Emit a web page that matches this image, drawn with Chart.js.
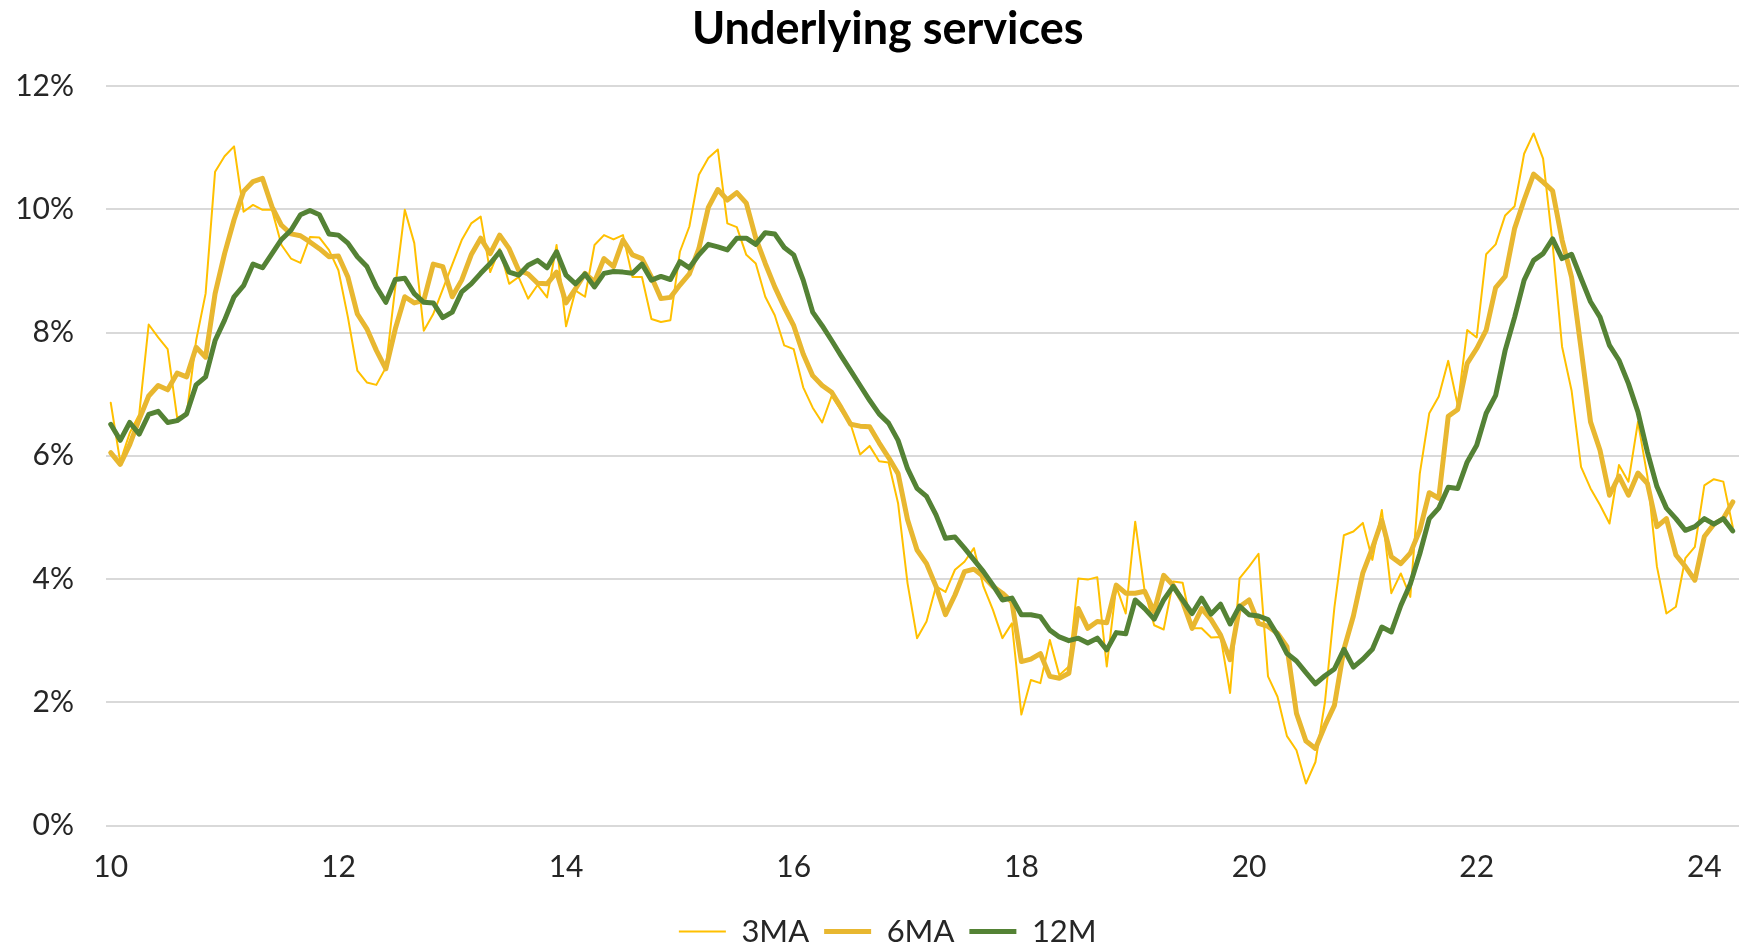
<!DOCTYPE html>
<html>
<head>
<meta charset="utf-8">
<title>Underlying services</title>
<script src="https://cdn.jsdelivr.net/npm/chart.js@4.4.1/dist/chart.umd.min.js"></script>
<style>
  html, body { margin: 0; padding: 0; background: #fff; overflow: hidden; }
  #wrap { width: 1780px; height: 951px; }
</style>
</head>
<body>
<div id="wrap"><canvas id="chart" width="1780" height="951"></canvas></div>
<script>
// Monthly, Jan 2010 onwards (the picture is cropped a few months past the last point)
const monthCount = 176;
const months = [];
for (let i = 0; i < monthCount; i++) {
  const y = 2010 + Math.floor(i / 12);
  const m = (i % 12) + 1;
  months.push(y + '-' + String(m).padStart(2, '0'));
}

// x-axis labels, one every two years (January)
const yearTicks = ['10', '12', '14', '16', '18', '20', '22', '24'];

// 3-month moving average, annualised (%)
const ma3 = [
  6.86, 5.90, 6.37, 6.67, 8.13, 7.92, 7.73, 6.62, 6.67, 7.87, 8.63, 10.61,
  10.86, 11.02, 9.96, 10.07, 9.99, 9.99, 9.42, 9.20, 9.13, 9.55, 9.54, 9.34,
  9.01, 8.25, 7.38, 7.19, 7.15, 7.43, 8.74, 9.99, 9.45, 8.03, 8.30, 8.70,
  9.10, 9.50, 9.77, 9.88, 8.98, 9.36, 8.79, 8.90, 8.55, 8.77, 8.57, 9.42,
  8.10, 8.68, 8.58, 9.42, 9.58, 9.51, 9.58, 8.90, 8.90, 8.22, 8.17, 8.20,
  9.31, 9.72, 10.56, 10.83, 10.97, 9.77, 9.71, 9.26, 9.12, 8.58, 8.28, 7.79,
  7.73, 7.11, 6.78, 6.54, 6.97, 6.73, 6.51, 6.02, 6.16, 5.91, 5.89, 5.23,
  3.93, 3.04, 3.31, 3.88, 3.79, 4.15, 4.28, 4.50, 3.88, 3.50, 3.04, 3.28,
  1.80, 2.36, 2.31, 3.01, 2.44, 2.58, 4.01, 3.99, 4.03, 2.58, 3.88, 3.44,
  4.93, 3.80, 3.25, 3.18, 3.96, 3.94, 3.20, 3.20, 3.05, 3.06, 2.15, 4.01,
  4.20, 4.41, 2.42, 2.09, 1.45, 1.22, 0.68, 1.03, 2.00, 3.54, 4.71, 4.77,
  4.91, 4.31, 5.12, 3.77, 4.09, 3.71, 5.71, 6.69, 6.96, 7.54, 6.82, 8.04,
  7.92, 9.27, 9.43, 9.90, 10.05, 10.90, 11.23, 10.82, 9.44, 7.77, 7.06, 5.82,
  5.47, 5.20, 4.90, 5.85, 5.58, 6.55, 5.66, 4.20, 3.44, 3.55, 4.34, 4.52,
  5.52, 5.62, 5.58, 4.84
];

// 6-month moving average, annualised (%)
const ma6 = [
  6.05, 5.86, 6.18, 6.59, 6.97, 7.14, 7.07, 7.34, 7.28, 7.76, 7.60, 8.63,
  9.28, 9.83, 10.29, 10.45, 10.50, 10.04, 9.74, 9.60, 9.57, 9.47, 9.36, 9.23,
  9.24, 8.90, 8.30, 8.06, 7.71, 7.41, 8.06, 8.58, 8.48, 8.52, 9.11, 9.07,
  8.58, 8.85, 9.26, 9.53, 9.28, 9.58, 9.36, 9.01, 8.95, 8.80, 8.79, 8.98,
  8.48, 8.71, 8.96, 8.82, 9.20, 9.07, 9.50, 9.26, 9.20, 8.90, 8.55, 8.57,
  8.77, 8.95, 9.36, 10.03, 10.32, 10.15, 10.27, 10.10, 9.53, 9.12, 8.74, 8.41,
  8.11, 7.65, 7.30, 7.14, 7.03, 6.78, 6.51, 6.48, 6.47, 6.21, 5.97, 5.71,
  4.96, 4.47, 4.25, 3.88, 3.42, 3.74, 4.12, 4.16, 4.04, 3.88, 3.77, 3.63,
  2.66, 2.70, 2.79, 2.42, 2.39, 2.47, 3.52, 3.20, 3.31, 3.29, 3.90, 3.77,
  3.77, 3.80, 3.47, 4.06, 3.90, 3.63, 3.20, 3.52, 3.34, 3.09, 2.69, 3.55,
  3.66, 3.28, 3.23, 3.12, 2.90, 1.82, 1.37, 1.25, 1.62, 1.95, 2.86, 3.40,
  4.10, 4.50, 4.95, 4.36, 4.25, 4.42, 4.79, 5.40, 5.31, 6.64, 6.75, 7.50,
  7.74, 8.04, 8.73, 8.91, 9.69, 10.15, 10.57, 10.44, 10.30, 9.50, 8.90, 7.74,
  6.55, 6.09, 5.36, 5.67, 5.36, 5.72, 5.55, 4.85, 4.98, 4.39, 4.20, 3.98,
  4.69, 4.89, 4.98, 5.25
];

// 12-month growth (%)
const m12 = [
  6.51, 6.25, 6.54, 6.35, 6.67, 6.72, 6.54, 6.57, 6.68, 7.15, 7.28, 7.87,
  8.20, 8.58, 8.76, 9.11, 9.05, 9.28, 9.51, 9.66, 9.91, 9.98, 9.91, 9.60,
  9.58, 9.45, 9.23, 9.07, 8.74, 8.49, 8.86, 8.88, 8.63, 8.49, 8.48, 8.24,
  8.33, 8.66, 8.79, 8.96, 9.12, 9.31, 8.98, 8.93, 9.09, 9.17, 9.05, 9.31,
  8.93, 8.79, 8.95, 8.74, 8.96, 8.99, 8.98, 8.96, 9.11, 8.85, 8.91, 8.86,
  9.15, 9.05, 9.26, 9.43, 9.39, 9.34, 9.53, 9.53, 9.43, 9.62, 9.60, 9.38,
  9.26, 8.85, 8.33, 8.11, 7.87, 7.62, 7.38, 7.14, 6.90, 6.68, 6.53, 6.25,
  5.79, 5.47, 5.34, 5.04, 4.66, 4.68, 4.50, 4.31, 4.12, 3.90, 3.66, 3.69,
  3.42, 3.42, 3.39, 3.17, 3.06, 3.00, 3.04, 2.96, 3.04, 2.85, 3.13, 3.11,
  3.66, 3.52, 3.35, 3.66, 3.88, 3.66, 3.44, 3.69, 3.43, 3.59, 3.27, 3.56,
  3.42, 3.40, 3.34, 3.09, 2.79, 2.67, 2.48, 2.30, 2.43, 2.54, 2.86, 2.57,
  2.70, 2.86, 3.22, 3.14, 3.57, 3.92, 4.41, 4.98, 5.15, 5.49, 5.47, 5.90,
  6.17, 6.69, 6.98, 7.71, 8.25, 8.85, 9.17, 9.28, 9.52, 9.20, 9.27, 8.88,
  8.50, 8.25, 7.79, 7.55, 7.17, 6.71, 6.06, 5.50, 5.15, 4.98, 4.79, 4.85,
  4.98, 4.89, 4.98, 4.78
];

const FONT = "Lato, 'Open Sans', sans-serif";
const TEXT = '#262626';

const ctx = document.getElementById('chart').getContext('2d');
new Chart(ctx, {
  type: 'line',
  data: {
    labels: months,
    datasets: [
      { label: '3MA', data: ma3, borderColor: '#FFC000', backgroundColor: '#FFC000', borderWidth: 2, order: 3 },
      { label: '6MA', data: ma6, borderColor: '#E8B730', backgroundColor: '#E8B730', borderWidth: 5, order: 2 },
      { label: '12M', data: m12, borderColor: '#548235', backgroundColor: '#548235', borderWidth: 5, order: 1 }
    ]
  },
  options: {
    responsive: false,
    animation: false,
    layout: { padding: { left: 0, right: 4.5, top: 0, bottom: -6 } },
    elements: {
      point: { radius: 0, hoverRadius: 0 },
      line: { tension: 0, borderJoinStyle: 'round', borderCapStyle: 'round', fill: false }
    },
    plugins: {
      title: {
        display: true,
        text: 'Underlying services',
        color: '#000',
        font: { family: FONT, size: 45, weight: 'bold' },
        padding: { top: 2, bottom: 30 }
      },
      legend: {
        position: 'bottom',
        labels: {
          usePointStyle: true,
          pointStyle: 'line',
          pointStyleWidth: 47,
          padding: 15,
          color: TEXT,
          font: { family: FONT, size: 31 },
          sort: (a, b) => a.datasetIndex - b.datasetIndex
        }
      },
      tooltip: { enabled: false }
    },
    scales: {
      x: {
        type: 'category',
        offset: true,
        // tick marks are not drawn (grid hidden); tickLength only spaces the labels
        grid: { display: false, drawTicks: true, tickLength: 24 },
        border: { display: false },
        ticks: {
          autoSkip: false,
          maxRotation: 0,
          padding: 0,
          color: TEXT,
          font: { family: FONT, size: 30 },
          callback: (value, index) => (index % 24 === 0 && yearTicks[index / 24]) ? yearTicks[index / 24] : ''
        },
        afterFit: (scale) => { scale.height = 75.5; }
      },
      y: {
        min: 0,
        max: 12,
        grid: { color: '#D9D9D9', lineWidth: 2, drawTicks: false },
        border: { display: false },
        ticks: {
          stepSize: 2,
          padding: 32,
          color: TEXT,
          font: { family: FONT, size: 30 },
          callback: (v) => v + '%'
        },
        afterFit: (scale) => { scale.width = 106; }
      }
    }
  }
});
</script>
</body>
</html>
